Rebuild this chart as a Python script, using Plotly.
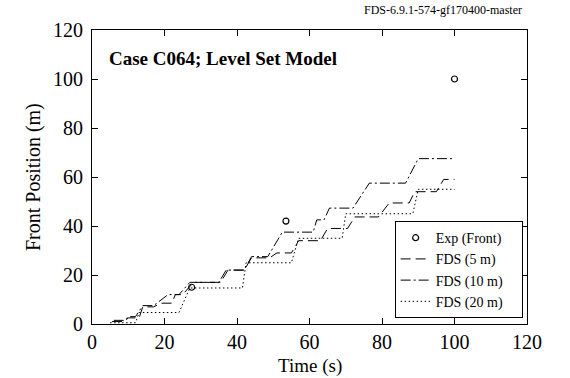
import plotly.graph_objects as go

# Experimental front positions
exp_t = [27.5, 53.5, 100.0]
exp_y = [15.0, 42.0, 100.0]

# FDS 5 m (dashed)
fds5_t = [5.5, 9.0, 10.0, 13.0, 14.0, 17.0, 19.0, 22.0, 23.0, 25.0, 28.0, 35.5, 37.5, 42.0, 44.0, 49.0,
          51.0, 55.0, 57.0, 63.0, 65.0, 70.5, 72.5, 79.0, 82.0, 87.5, 89.0, 95.0, 97.0, 100.0]
fds5_y = [1.0, 1.0, 2.5, 2.5, 7.0, 7.0, 8.5, 8.5, 12.0, 12.0, 17.0, 17.0, 22.0, 22.0, 27.0, 27.0,
          29.0, 29.0, 34.0, 34.0, 39.0, 39.0, 43.7, 43.7, 49.4, 49.4, 54.0, 54.0, 59.0, 59.0]

# FDS 10 m (dash-dot)
fds10_t = [6.0, 9.0, 10.0, 12.0, 14.0, 17.0, 21.0, 24.0, 27.0, 35.0, 37.0, 42.0, 44.0, 48.5, 52.5,
           61.0, 62.0, 64.0, 65.5, 72.0, 76.5, 86.5, 90.0, 100.0]
fds10_y = [1.5, 1.5, 3.0, 3.0, 7.5, 7.5, 12.0, 12.0, 17.0, 17.0, 22.0, 22.0, 27.5, 27.5, 37.5,
           37.5, 42.5, 42.5, 47.3, 47.3, 57.5, 57.5, 67.5, 67.5]

# FDS 20 m (dotted)
fds20_t = [5.0, 12.0, 13.0, 24.0, 27.0, 41.5, 42.5, 55.0, 57.0, 69.0, 70.0, 88.5, 90.0, 100.0]
fds20_y = [0.5, 0.5, 4.7, 4.7, 14.7, 14.7, 25.0, 25.0, 35.0, 35.0, 45.0, 45.0, 55.0, 55.0]

x_ticks = [0, 20, 40, 60, 80, 100, 120]
y_ticks = [0, 20, 40, 60, 80, 100, 120]

FONT = "Liberation Serif"
NB = "&nbsp;"

fig = go.Figure()
fig.add_trace(go.Scatter(x=exp_t, y=exp_y, mode="markers", name="Exp (Front)",
                         marker=dict(symbol="circle-open", size=6, color="black",
                                     line=dict(width=1.2, color="black"))))
fig.add_trace(go.Scatter(x=fds5_t, y=fds5_y, mode="lines", name="FDS (5 m)",
                         line=dict(color="black", width=1, dash="10px,5px")))
fig.add_trace(go.Scatter(x=fds10_t, y=fds10_y, mode="lines", name="FDS (10 m)",
                         line=dict(color="black", width=1, dash="10px,3px,2px,3px")))
fig.add_trace(go.Scatter(x=fds20_t, y=fds20_y, mode="lines", name="FDS (20 m)" + NB * 4,
                         line=dict(color="black", width=1, dash="1.5px,2.5px")))

axis_common = dict(showgrid=False, zeroline=False, showline=True, linecolor="black", linewidth=1,
                   mirror="ticks", ticks="inside", ticklen=6, tickcolor="black", automargin=False,
                   tickfont=dict(family=FONT, size=20, color="black"))

fig.update_xaxes(range=[0, 120], tickvals=x_ticks, ticktext=[str(v) for v in x_ticks],
                 ticklabelstandoff=0, **axis_common)
fig.update_yaxes(range=[0, 120], tickvals=y_ticks, ticktext=[str(v) for v in y_ticks],
                 ticklabelstandoff=4, **axis_common)

# axis titles
fig.add_annotation(x=0.5, y=-0.143, xref="paper", yref="paper", text="Time (s)",
                   showarrow=False, xanchor="center", yanchor="middle",
                   font=dict(family=FONT, size=19, color="black"))
fig.add_annotation(x=-0.1356, y=0.5, xref="paper", yref="paper", text="Front Position (m)",
                   showarrow=False, xanchor="center", yanchor="middle", textangle=-90,
                   font=dict(family=FONT, size=20, color="black"))

fig.add_annotation(x=4, y=108.5, xref="x", yref="y", text="<b>Case C064; Level Set Model</b>",
                   showarrow=False, xanchor="left", yanchor="middle",
                   font=dict(family=FONT, size=19, color="black"))
fig.add_annotation(x=1.0, y=1.0, xref="paper", yref="paper", text="FDS-6.9.1-574-gf170400-master",
                   showarrow=False, xanchor="right", yanchor="middle", yshift=20, xshift=-3,
                   font=dict(family=FONT, size=12, color="black"))

fig.update_layout(
    width=570, height=378,
    margin=dict(l=92, r=43, t=30, b=54, autoexpand=False),
    paper_bgcolor="white", plot_bgcolor="white",
    showlegend=True,
    legend=dict(x=0.99, y=0.02, xanchor="right", yanchor="bottom",
                bordercolor="black", borderwidth=1, bgcolor="white",
                font=dict(family=FONT, size=14, color="black"),
                tracegroupgap=0, itemwidth=30),
)

fig.write_html("out.html")
